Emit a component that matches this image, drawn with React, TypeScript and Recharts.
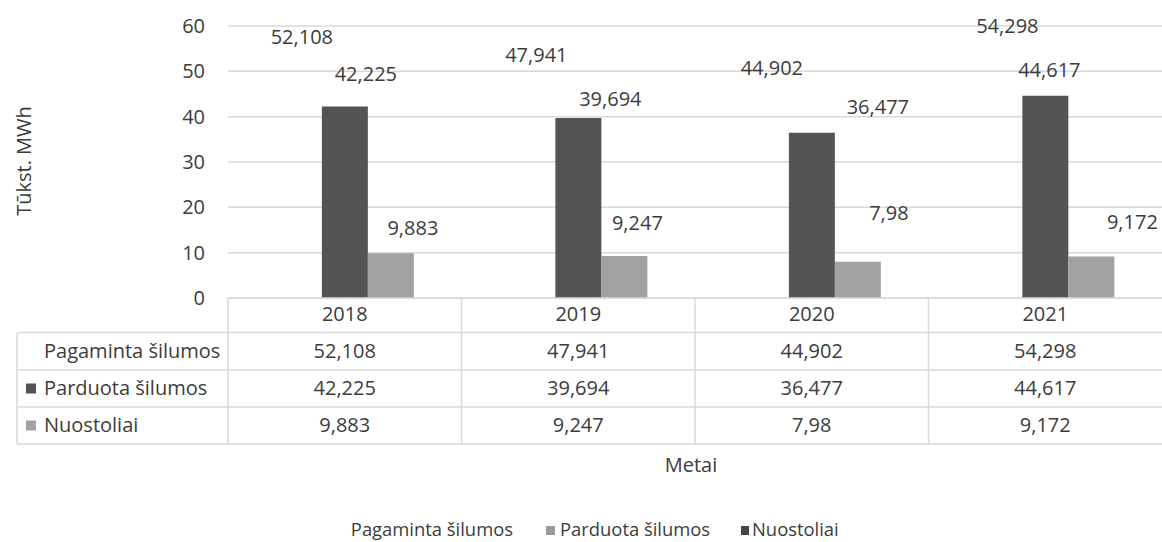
import React from 'react';
import {
  BarChart,
  Bar,
  XAxis,
  YAxis,
  CartesianGrid,
  LabelList,
  Customized,
} from 'recharts';

const years = ['2018', '2019', '2020', '2021'];
const produced = [52.108, 47.941, 44.902, 54.298];
const sold = [42.225, 39.694, 36.477, 44.617];
const losses = [9.883, 9.247, 7.98, 9.172];
const yTicks = [0, 10, 20, 30, 40, 50, 60];

const seriesNames = ['Pagaminta šilumos', 'Parduota šilumos', 'Nuostoliai'];

// label nudges (dx, dy from bar top centre), labels were dragged by hand in the original
const labelNudge = [
  { dx: [3, 4, 6, 8], dy: [-25, -26, -26, -26] },
  { dx: [21, 32, 66, 4], dy: [-33, -19, -26, -26] },
  { dx: [22, 13, 31, 41], dy: [-25, -33, -49, -34] },
];

const W = 1162;
const H = 542;
const PLOT_LEFT = 228;
const PLOT_TOP = 26;
const PLOT_BOTTOM = 298;
const BAND = (W - PLOT_LEFT) / years.length;
const Y_AXIS_W = 80;
const X_AXIS_H = 160;

const FONT = '"Open Sans", "Noto Sans", sans-serif';
const TEXT = '#3c3c3c';
const GRID = '#d9d9d9';
const DARK = '#545454';
const LIGHT = '#a2a2a2';

// table rows: centre of text
const ROW_Y = [314, 350.5, 387.5, 424.5];
const ROW_LINES = [332.5, 370, 407, 444];
const TABLE_LEFT = 17;

const fmt = (v: number) => String(v).replace('.', ',');

const data = years.map((year, i) => ({
  year,
  produced: produced[i],
  sold: sold[i],
  losses: losses[i],
}));

const seriesValues = [produced, sold, losses];

const makeLabel = (s: number) => (props: any) => {
  const { x, y, width, value, index } = props;
  const cx = Number(x) + Number(width) / 2 + labelNudge[s].dx[index];
  const cy = Number(y) + labelNudge[s].dy[index];
  return (
    <text x={cx} y={cy + 7} textAnchor="middle" fontSize={20} fontFamily={FONT} fill={TEXT}>
      {fmt(value)}
    </text>
  );
};

const TableTick = (props: any) => {
  const { x, payload } = props;
  const i = payload.index;
  const left = x - BAND / 2;
  return (
    <g>
      <line x1={left} y1={PLOT_BOTTOM} x2={left} y2={ROW_LINES[3]} stroke={GRID} strokeWidth={1.5} />
      <text x={x} y={ROW_Y[0] + 7} textAnchor="middle" fontSize={20} fontFamily={FONT} fill={TEXT}>
        {payload.value}
      </text>
      {seriesValues.map((vals, s) => (
        <text
          key={s}
          x={x}
          y={ROW_Y[s + 1] + 7}
          textAnchor="middle"
          fontSize={20}
          fontFamily={FONT}
          fill={TEXT}
        >
          {fmt(vals[i])}
        </text>
      ))}
    </g>
  );
};

const tableKeys = [null, DARK, LIGHT];
const legendKeys = [null, '#9a9a9a', '#454545'];

const Frame = () => (
  <g>
    {ROW_LINES.map((ly) => (
      <line key={ly} x1={TABLE_LEFT} y1={ly} x2={W} y2={ly} stroke={GRID} strokeWidth={1.5} />
    ))}
    <line x1={TABLE_LEFT} y1={ROW_LINES[0]} x2={TABLE_LEFT} y2={ROW_LINES[3]} stroke={GRID} strokeWidth={1.5} />
    {seriesNames.map((name, s) => (
      <g key={name}>
        {tableKeys[s] && (
          <rect x={26} y={ROW_Y[s + 1] - 4} width={10} height={10} fill={tableKeys[s] as string} />
        )}
        <text x={44} y={ROW_Y[s + 1] + 7} fontSize={20} fontFamily={FONT} fill={TEXT}>
          {name}
        </text>
      </g>
    ))}
    <text
      x={23}
      y={161}
      transform="rotate(-90 23 161)"
      textAnchor="middle"
      dominantBaseline="central"
      fontSize={20}
      fontFamily={FONT}
      fill={TEXT}
    >
      Tūkst. MWh
    </text>
    <text x={691} y={472} textAnchor="middle" fontSize={20} fontFamily={FONT} fill={TEXT}>
      Metai
    </text>
    {/* legend */}
    <text x={513} y={536} textAnchor="end" fontSize={18.4} fontFamily={FONT} fill={TEXT}>
      {seriesNames[0]}
    </text>
    <rect x={546} y={526} width={9} height={9} fill={legendKeys[1] as string} />
    <text x={560} y={536} fontSize={18.4} fontFamily={FONT} fill={TEXT}>
      {seriesNames[1]}
    </text>
    <rect x={741} y={526} width={8} height={9} fill={legendKeys[2] as string} />
    <text x={752} y={536} fontSize={18.4} fontFamily={FONT} fill={TEXT}>
      {seriesNames[2]}
    </text>
  </g>
);

export default function App() {
  return (
    <div style={{ position: 'fixed', left: 0, top: 0, width: W, height: H, background: '#fff' }}>
      <BarChart
        width={W}
        height={H}
        data={data}
        margin={{
          top: PLOT_TOP,
          right: 0,
          left: PLOT_LEFT - Y_AXIS_W,
          bottom: H - PLOT_BOTTOM - X_AXIS_H,
        }}
        barCategoryGap="20.5%"
        barGap={0}
      >
        <CartesianGrid vertical={false} stroke={GRID} strokeWidth={1.5} />
        <YAxis
          width={Y_AXIS_W}
          domain={[0, 60]}
          ticks={yTicks}
          axisLine={false}
          tickLine={false}
          tickSize={0}
          tickMargin={23}
          tick={{ fontSize: 20, fontFamily: FONT, fill: TEXT }}
        />
        <XAxis
          dataKey="year"
          height={X_AXIS_H}
          interval={0}
          axisLine={{ stroke: GRID, strokeWidth: 1.5 }}
          tickLine={false}
          tickSize={0}
          tickMargin={0}
          tick={<TableTick />}
        />
        <Bar dataKey="produced" fill="none" isAnimationActive={false}>
          <LabelList dataKey="produced" content={makeLabel(0)} />
        </Bar>
        <Bar dataKey="sold" fill={DARK} isAnimationActive={false}>
          <LabelList dataKey="sold" content={makeLabel(1)} />
        </Bar>
        <Bar dataKey="losses" fill={LIGHT} isAnimationActive={false}>
          <LabelList dataKey="losses" content={makeLabel(2)} />
        </Bar>
        <Customized component={<Frame />} />
      </BarChart>
    </div>
  );
}
